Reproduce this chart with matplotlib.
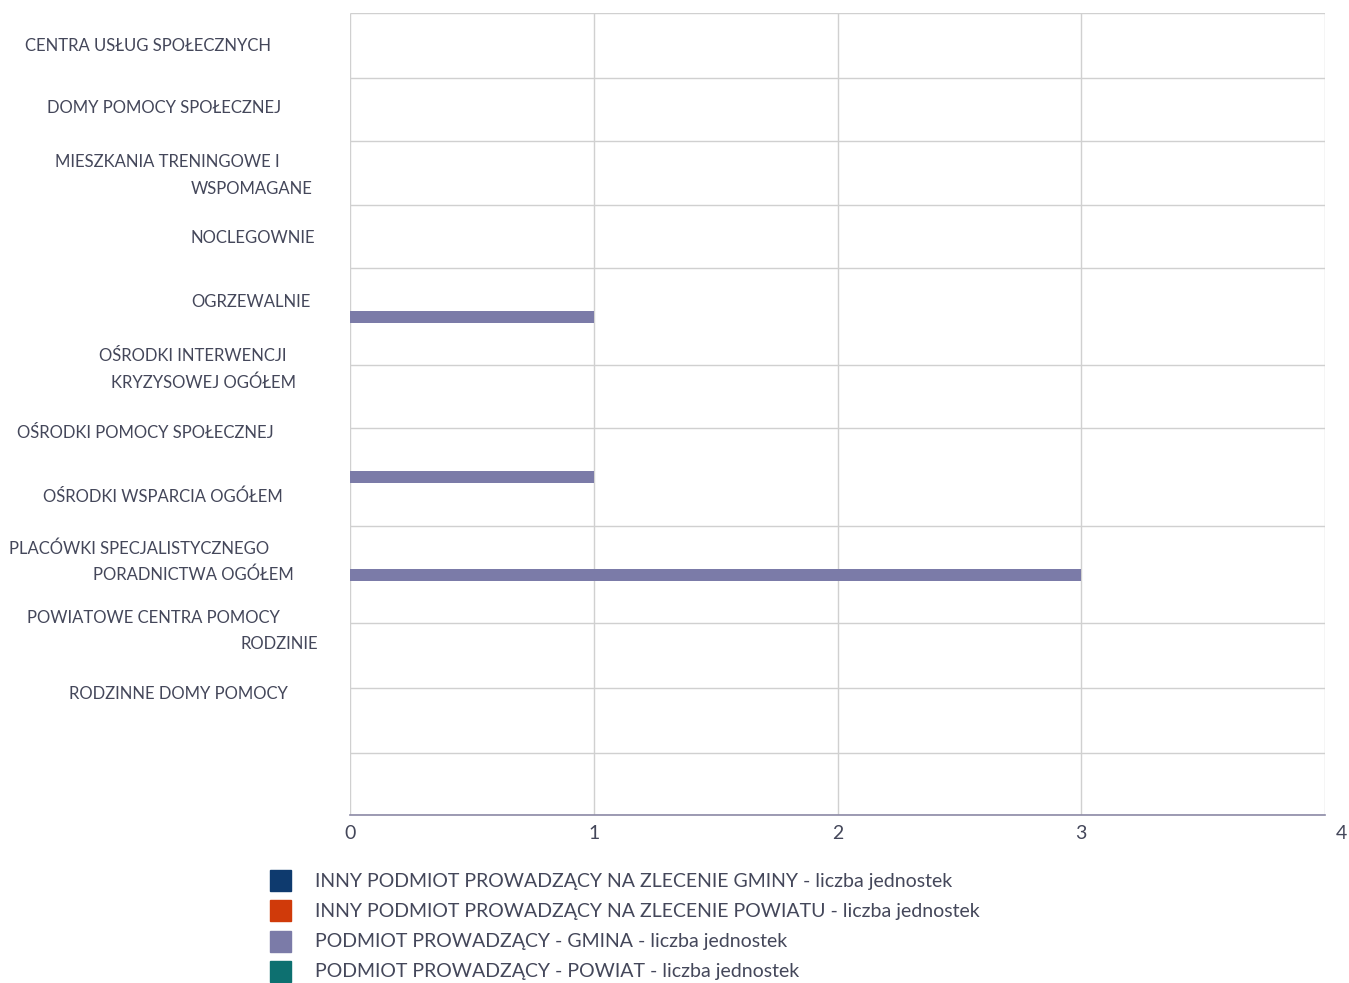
import matplotlib.pyplot as plt
import matplotlib.transforms as mtransforms
import numpy as np

plt.rcParams['font.family'] = ['Lato', 'DejaVu Sans']

categories = [
    'CENTRA USŁUG SPOŁECZNYCH',
    'DOMY POMOCY SPOŁECZNEJ',
    'MIESZKANIA TRENINGOWE I\nWSPOMAGANE',
    'NOCLEGOWNIE',
    'OGRZEWALNIE',
    'OŚRODKI INTERWENCJI\nKRYZYSOWEJ OGÓŁEM',
    'OŚRODKI POMOCY SPOŁECZNEJ',
    'OŚRODKI WSPARCIA OGÓŁEM',
    'PLACÓWKI SPECJALISTYCZNEGO\nPORADNICTWA OGÓŁEM',
    'POWIATOWE CENTRA POMOCY\nRODZINIE',
    'RODZINNE DOMY POMOCY',
]
series_names = [
    'INNY PODMIOT PROWADZĄCY NA ZLECENIE GMINY - liczba jednostek',
    'INNY PODMIOT PROWADZĄCY NA ZLECENIE POWIATU - liczba jednostek',
    'PODMIOT PROWADZĄCY - GMINA - liczba jednostek',
    'PODMIOT PROWADZĄCY - POWIAT - liczba jednostek',
]
inny_gmina = [0, 0, 0, 0, 0, 0, 0, 0, 0, 0, 0]
inny_powiat = [0, 0, 0, 0, 0, 0, 0, 0, 0, 0, 0]
gmina = [0, 0, 0, 0, 1, 0, 0, 1, 3, 0, 0]
powiat = [0, 0, 0, 0, 0, 0, 0, 0, 0, 0, 0]
x_ticks = [0, 1, 2, 3, 4]

colors = ['#0e3a6e', '#d03a0a', '#7b7ba8', '#0d7070']
text_color = '#44475a'

# layout (pixels from the top of the plot area)
band_edges = [0, 65, 128, 192, 255, 352, 415, 513, 610, 675, 740, 802]
bar_rows = [32, 96, 160, 223, 304, 384, 448, 464, 562, 640, 705]
label_lines_x = [[25], [47], [55, 191], [191], [191], [99, 111], [17], [43], [9, 93], [27, 241], [69]]
label_lines_y = [[46], [108], [162, 189], [238], [302], [356, 383], [433], [497], [549, 575], [618, 644], [694]]

W, H = 1349, 983
fig = plt.figure(figsize=(W / 100, H / 100), dpi=100)
ax = fig.add_axes([350 / W, (H - 815) / H, 975 / W, 802 / H])

for vals, col in zip([inny_gmina, inny_powiat, gmina, powiat], colors):
    v = np.array(vals, dtype=float)
    rows = np.array(bar_rows)
    ax.barh(rows[v > 0], v[v > 0], height=12, color=col, zorder=3)

ax.set_xlim(0, 4)
ax.set_ylim(802, 0)
ax.set_xticks(x_ticks)
ax.set_xticklabels([str(t) for t in x_ticks])
ax.set_yticks([])
ax.hlines(band_edges, 0, 4, colors='#d0d0d0', linewidth=1, zorder=1)
ax.vlines(x_ticks, 0, 802, colors='#d0d0d0', linewidth=1, zorder=1)
for s in ['top', 'right', 'left']:
    ax.spines[s].set_visible(False)
ax.spines['bottom'].set_color('#8c8aa6')
ax.spines['bottom'].set_linewidth(1.2)
ax.tick_params(axis='x', length=0, pad=7, labelsize=14, labelcolor=text_color)

# the last tick label sits a little to the right of its gridline
last = ax.get_xticklabels()[-1]
last.set_transform(last.get_transform() + mtransforms.ScaledTranslation(0.16, 0, fig.dpi_scale_trans))

# category labels, line by line
for name, xs, ys in zip(categories, label_lines_x, label_lines_y):
    for line, lx, ly in zip(name.split('\n'), xs, ys):
        fig.text(lx / W, 1 - ly / H, line, ha='left', va='center',
                 fontsize=12, color=text_color)

# legend
for i, (name, col) in enumerate(zip(series_names, colors)):
    y = 881 + i * 30.3
    fig.patches.append(plt.Rectangle((270 / W, 1 - (y + 10) / H), 21 / W, 21 / H,
                                     transform=fig.transFigure, color=col, figure=fig))
    fig.text(315 / W, 1 - y / H, name, ha='left', va='center',
             fontsize=14, color=text_color)

fig.savefig('out.png', dpi=100)
